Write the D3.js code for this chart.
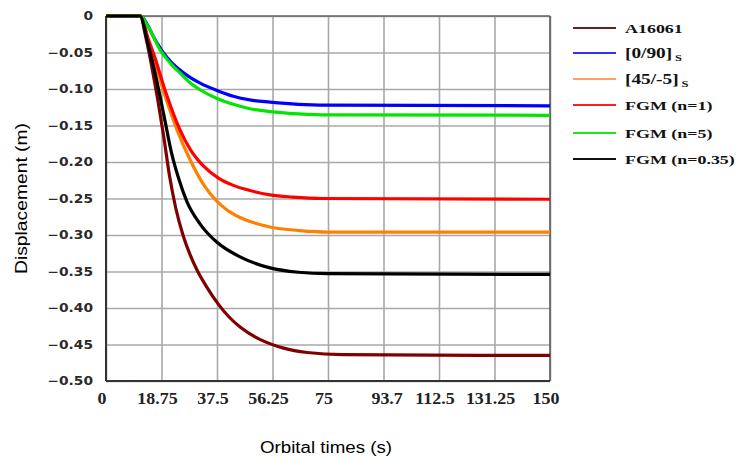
<!DOCTYPE html>
<html>
<head>
<meta charset="utf-8">
<script src="https://cdn.jsdelivr.net/npm/d3@7"></script>
<style>
  body { margin: 0; background: #fff; }
  svg { display: block; }
</style>
</head>
<body>
<script>
// values: [time (s), displacement (m)]
const al6061 = [[0,0],[11.5,0],[13.5,-0.03],[15.5,-0.07],[17.5,-0.115],[19.5,-0.165],[21.5,-0.22],[23.5,-0.262],[26,-0.3],[28.5,-0.328],[31,-0.35],[34,-0.371],[37.8,-0.394],[41.5,-0.412],[45.3,-0.426],[52,-0.443],[60,-0.455],[68,-0.461],[80,-0.464],[150,-0.465]];
const cross090 = [[0,0],[11.8,0],[14,-0.012],[16,-0.028],[18,-0.042],[19.3,-0.05],[22,-0.063],[25,-0.074],[28,-0.083],[31.8,-0.092],[37.5,-0.102],[43,-0.11],[48.6,-0.115],[55.4,-0.118],[65,-0.121],[75,-0.122],[150,-0.123]];
const angle455 = [[0,0],[11.8,0],[14,-0.03],[16,-0.057],[19.3,-0.101],[24,-0.156],[28.4,-0.197],[32.8,-0.23],[37.5,-0.254],[41,-0.266],[45.3,-0.276],[55.4,-0.289],[65.5,-0.294],[75,-0.296],[150,-0.296]];
const fgm1 = [[0,0],[11.8,0],[14,-0.028],[16.6,-0.058],[19.9,-0.101],[25,-0.156],[28.5,-0.183],[32.8,-0.205],[38,-0.222],[43,-0.232],[48.6,-0.239],[55.4,-0.245],[63,-0.248],[73.3,-0.25],[150,-0.251]];
const fgm5 = [[0,0],[11.8,0],[14,-0.013],[16,-0.028],[18.2,-0.046],[20,-0.056],[22,-0.066],[25,-0.078],[28,-0.09],[31.8,-0.101],[37.5,-0.113],[43,-0.121],[48.6,-0.127],[55.4,-0.131],[65,-0.134],[75,-0.1355],[150,-0.136]];
const fgm035 = [[0,0],[11.5,0],[14,-0.035],[16,-0.068],[18,-0.105],[20,-0.145],[22,-0.185],[24.5,-0.222],[27.4,-0.255],[31.8,-0.285],[37.5,-0.31],[45.3,-0.33],[55.4,-0.345],[65,-0.351],[75,-0.353],[150,-0.354]];

const seriesNames = ["A16061", "[0/90]s", "[45/-5]s", "FGM (n=1)", "FGM (n=5)", "FGM (n=0.35)"];
const seriesData = [al6061, cross090, angle455, fgm1, fgm5, fgm035];
const seriesColors = ["#800000", "#0000ff", "#ff8000", "#ff0000", "#00e600", "#000000"];
const legendColors = ["#6b1f1f", "#3030ff", "#ffa060", "#ff2020", "#20e020", "#111111"];

const xTicks = [0, 18.75, 37.5, 56.25, 75, 93.75, 112.5, 131.25, 150];
const xTickLabels = ["0", "18.75", "37.5", "56.25", "75", "93.7", "112.5", "131.25", "150"];
const yTicks = [0, -0.05, -0.10, -0.15, -0.20, -0.25, -0.30, -0.35, -0.40, -0.45, -0.50];

const W = 741, H = 459;
const margin = {top: 16, right: 191, bottom: 78, left: 106};
const width = W - margin.left - margin.right;
const height = H - margin.top - margin.bottom;

const svg = d3.select("body").append("svg")
  .attr("width", W)
  .attr("height", H);

const chart = svg.append("g")
  .attr("transform", "translate(" + margin.left + "," + margin.top + ")");

const x = d3.scaleLinear().domain([0, 150]).range([0, width]);
const y = d3.scaleLinear().domain([-0.5, 0]).range([height, 0]);

// grid
chart.append("g")
  .attr("class", "grid")
  .call(d3.axisBottom(x).tickValues(xTicks).tickSize(height).tickFormat(""))
  .call(g => g.select(".domain").remove())
  .call(g => g.selectAll("line").attr("stroke", "#a8a8a8").attr("stroke-width", 1.6));

chart.append("g")
  .attr("class", "grid")
  .call(d3.axisLeft(y).tickValues(yTicks).tickSize(-width).tickFormat(""))
  .call(g => g.select(".domain").remove())
  .call(g => g.selectAll("line").attr("stroke", "#a8a8a8").attr("stroke-width", 1.6));

// frame
chart.append("line").attr("x1", 0).attr("x2", width).attr("y1", 0).attr("y2", 0)
  .attr("stroke", "#666").attr("stroke-width", 1.5);
chart.append("line").attr("x1", width).attr("x2", width).attr("y1", 0).attr("y2", height)
  .attr("stroke", "#555").attr("stroke-width", 1.5);
chart.append("line").attr("x1", 0).attr("x2", 0).attr("y1", 0).attr("y2", height)
  .attr("stroke", "#333").attr("stroke-width", 2);
chart.append("line").attr("x1", 0).attr("x2", width).attr("y1", height).attr("y2", height)
  .attr("stroke", "#333").attr("stroke-width", 2);

// curves
const line = d3.line()
  .x(d => x(d[0]))
  .y(d => y(d[1]))
  .curve(d3.curveMonotoneX);

chart.selectAll("path.curve")
  .data(seriesData)
  .enter().append("path")
  .attr("class", "curve")
  .attr("fill", "none")
  .attr("stroke", (d, i) => seriesColors[i])
  .attr("stroke-width", 3.2)
  .attr("stroke-linejoin", "round")
  .attr("d", line);

// y tick labels (stretched a little, like the picture)
const yFmt = d => d === 0 ? "0" : "\u2212" + d3.format(".2f")(-d);
chart.selectAll("text.ylab")
  .data(yTicks)
  .enter().append("text")
  .attr("class", "ylab")
  .attr("transform", d => "translate(-13," + y(d) + ") scale(1.2,1)")
  .attr("text-anchor", "end")
  .attr("dy", "0.36em")
  .style("font-family", "DejaVu Sans, Verdana, sans-serif")
  .style("font-weight", "bold")
  .style("font-size", "11.5px")
  .attr("fill", "#2a2a2a")
  .text(yFmt);

// x tick labels
chart.selectAll("text.xlab")
  .data(xTicks)
  .enter().append("text")
  .attr("class", "xlab")
  .attr("transform", d => "translate(" + (x(d) - 4) + "," + (height + 23) + ") scale(1.12,1)")
  .attr("text-anchor", (d, i) => xTickLabels[i] === String(d) || i === 0 ? "middle" : "end")
  .attr("dx", (d, i) => xTickLabels[i] === String(d) || i === 0 ? 0 : "1.3em")
  .style("font-family", "Liberation Serif, Times New Roman, serif")
  .style("font-weight", "bold")
  .style("font-size", "16px")
  .attr("fill", "#222")
  .text((d, i) => xTickLabels[i]);

// axis titles
svg.append("text")
  .attr("transform", "translate(27," + (margin.top + height / 2) + ") rotate(-90)")
  .attr("text-anchor", "middle")
  .attr("textLength", 151)
  .attr("lengthAdjust", "spacingAndGlyphs")
  .style("font-family", "Liberation Sans, Arial, sans-serif")
  .style("font-size", "16px")
  .text("Displacement (m)");

svg.append("text")
  .attr("x", 326)
  .attr("y", 453)
  .attr("text-anchor", "middle")
  .attr("textLength", 132)
  .attr("lengthAdjust", "spacingAndGlyphs")
  .style("font-family", "Liberation Sans, Arial, sans-serif")
  .style("font-size", "16px")
  .text("Orbital times (s)");

// legend
const legendY = [28, 53, 79, 105, 133, 159];
const legend = svg.append("g").attr("class", "legend");
const items = legend.selectAll("g")
  .data(seriesNames)
  .enter().append("g")
  .attr("transform", (d, i) => "translate(573," + legendY[i] + ")");

items.append("line")
  .attr("x1", 0).attr("x2", 43)
  .attr("stroke", (d, i) => legendColors[i])
  .attr("stroke-width", 2.2);

items.append("text")
  .attr("transform", "translate(52,5) scale(1.38,1)")
  .style("font-family", "Liberation Serif, Times New Roman, serif")
  .style("font-weight", "bold")
  .style("font-size", "13px")
  .attr("fill", "#111")
  .each(function(d) {
    const t = d3.select(this);
    const m = d.match(/^(\[.*\])s$/);
    if (m) {
      t.append("tspan").style("font-size", "14px").text(m[1]);
      t.append("tspan").style("font-size", "9px").attr("dx", 2).attr("dy", 3).text("S");
    } else {
      t.text(d);
    }
  });
</script>
</body>
</html>
